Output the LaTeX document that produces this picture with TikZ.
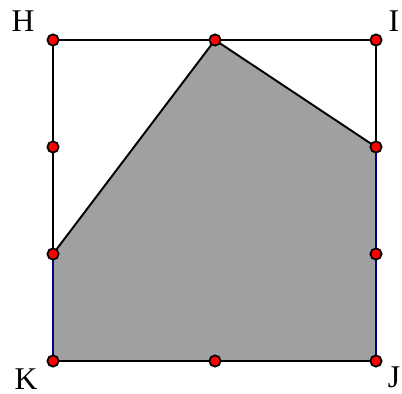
\documentclass[tikz,border=0pt]{standalone}
\usepackage{fontspec}
\setmainfont{Liberation Serif}
\usepackage{tikz}
\usetikzlibrary{calc}
\definecolor{ShadeGray}{HTML}{A0A0A0}
\definecolor{EdgeNavy}{HTML}{000080}
\tikzset{
  ptdot/.style={circle, draw=black, fill=red, line width=1pt, minimum size=6.4pt, inner sep=0pt},
  vlabel/.style={font=\fontsize{18}{20}\selectfont, inner sep=0pt},
  sqline/.style={line width=1.1pt, black},
  navyline/.style={line width=1.1pt, EdgeNavy}
}
\begin{document}
\begin{tikzpicture}[x=0.02cm, y=-0.02cm]
\useasboundingbox (0,0) rectangle (402,394);
% square corners and side points
\coordinate (H) at (53,40);
\coordinate (I) at (376,40);
\coordinate (J) at (376,361);
\coordinate (K) at (53,361);
\coordinate (HI) at (215,40);
\coordinate (KJ) at (215,361);
\coordinate (HK1) at (53,147);
\coordinate (HK2) at (53,254);
\coordinate (IJ1) at (376,147);
\coordinate (IJ2) at (376,254);
% shaded region
\fill[ShadeGray] (HK2) -- (HI) -- (IJ1) -- (J) -- (K) -- cycle;
\draw[navyline] (K) -- (HK2);
\draw[navyline] (IJ1) -- (J);
\draw[sqline] (HK2) -- (H) -- (I) -- (IJ1);
\draw[sqline] (K) -- (J);
\draw[sqline] (HK2) -- (HI) -- (IJ1);
% points
\foreach \p in {H,I,J,K,HI,KJ,HK1,HK2,IJ1,IJ2}
  \node[ptdot] (d\p) at (\p) {};
% labels
\node[vlabel] (lH) at (23,21) {H};
\node[vlabel] (lI) at (394,21) {I};
\node[vlabel] (lK) at (26,379) {K};
\node[vlabel] (lJ) at (394,377) {J};
\end{tikzpicture}
\end{document}
